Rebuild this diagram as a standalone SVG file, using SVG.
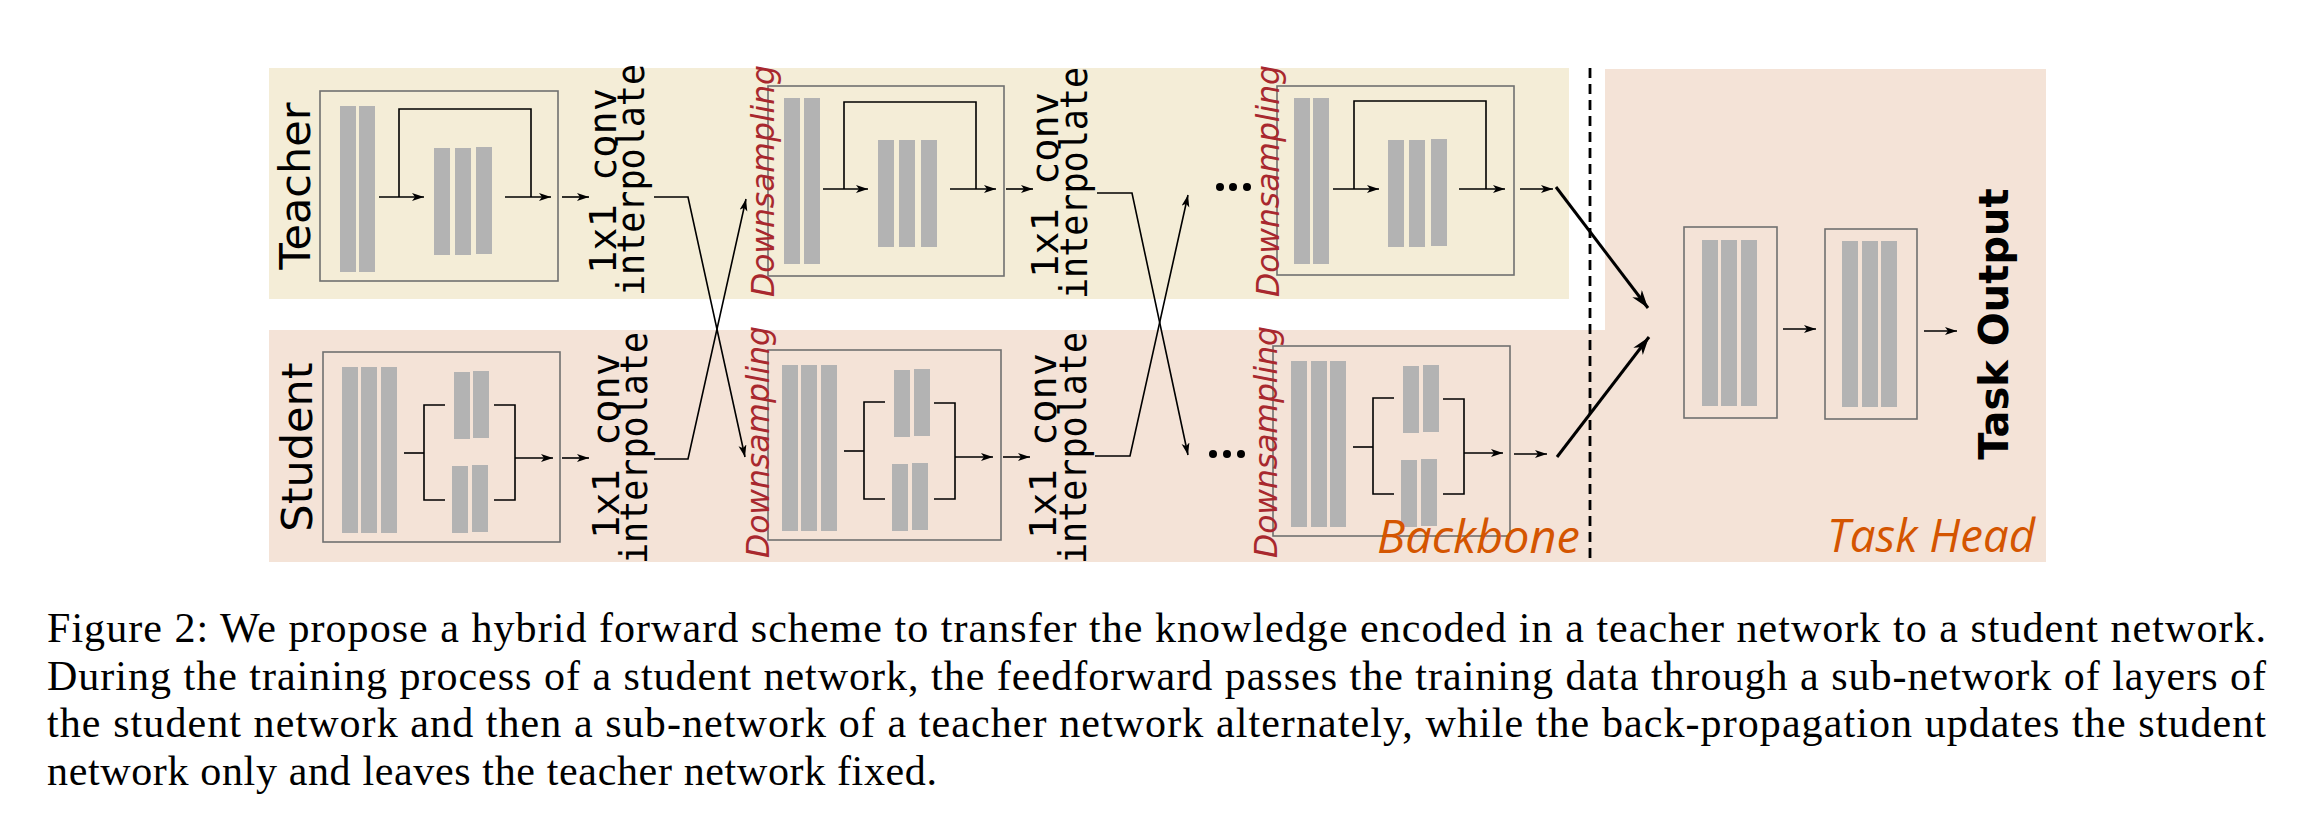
<svg xmlns="http://www.w3.org/2000/svg" width="2322" height="820" viewBox="0 0 2322 820">
<style>
.bgT{fill:#f4edd7}
.bgS{fill:#f4e3d7}
.box{fill:none;stroke:#707070;stroke-width:1.6}
.bar{fill:#b3b3b3}
.ln{fill:none;stroke:#000;stroke-width:1.6}
.big{fill:none;stroke:#000;stroke-width:3}
.lbl{font-family:"DejaVu Sans",sans-serif;font-size:43px;fill:#000;text-anchor:middle}
.mono{font-family:"DejaVu Sans Mono",monospace;font-size:37px;fill:#000;text-anchor:middle}
.ds{font-family:"DejaVu Sans",sans-serif;font-style:oblique;font-size:32px;fill:#a8282e;text-anchor:middle}
.or{font-family:"Open Sans",sans-serif;font-style:italic;font-size:46px;fill:#d45500}
.out{font-family:"DejaVu Sans",sans-serif;font-weight:bold;font-size:40px;fill:#000;text-anchor:middle}
.cap{font-family:"Liberation Serif","Times New Roman",serif;font-size:42px;fill:#000}
</style>
<defs>
<marker id="ah" markerUnits="userSpaceOnUse" markerWidth="14" markerHeight="10" refX="12" refY="4" orient="auto">
<path d="M0,0 L12,4 L0,8 L3,4 z" fill="#000"/>
</marker>
<marker id="ahb" markerUnits="userSpaceOnUse" markerWidth="20" markerHeight="14" refX="18" refY="6" orient="auto">
<path d="M0,0 L18,6 L0,12 L5,6 z" fill="#000"/>
</marker>
</defs>

<g id="backgrounds">
<rect class="bgT" x="269" y="68" width="1300" height="231"/>
<rect class="bgS" x="269" y="330" width="1336" height="232"/>
<rect class="bgS" x="1605" y="69" width="441" height="493"/>
<line x1="1590" y1="68" x2="1590" y2="562" stroke="#000" stroke-width="2.8" stroke-dasharray="10,6"/>
</g>

<g id="teacher-label"><text class="lbl" transform="translate(310,186) rotate(-90)">Teacher</text></g>
<g id="student-label"><text class="lbl" transform="translate(312,447) rotate(-90)">Student</text></g>

<g id="teacher-block-1">
<rect class="box" x="320" y="91" width="238" height="190"/>
<rect class="bar" x="340" y="106" width="16" height="166"/>
<rect class="bar" x="359" y="106" width="16" height="166"/>
<rect class="bar" x="434" y="148" width="16" height="107"/>
<rect class="bar" x="455" y="148" width="16" height="107"/>
<rect class="bar" x="476" y="147" width="16" height="107"/>
<path class="ln" d="M379,197 H424" marker-end="url(#ah)"/>
<path class="ln" d="M399,197 V109 H531 V197"/>
<path class="ln" d="M505,197 H551" marker-end="url(#ah)"/>
</g>

<g id="teacher-block-2">
<rect class="box" x="768" y="86" width="236" height="190"/>
<rect class="bar" x="784" y="98" width="16" height="166"/>
<rect class="bar" x="804" y="98" width="16" height="166"/>
<rect class="bar" x="878" y="140" width="16" height="107"/>
<rect class="bar" x="899" y="140" width="16" height="107"/>
<rect class="bar" x="921" y="140" width="16" height="107"/>
<path class="ln" d="M823,189 H868" marker-end="url(#ah)"/>
<path class="ln" d="M844,189 V102 H976 V189"/>
<path class="ln" d="M950,189 H996" marker-end="url(#ah)"/>
</g>

<g id="teacher-block-3">
<rect class="box" x="1277" y="86" width="237" height="189"/>
<rect class="bar" x="1294" y="98" width="16" height="166"/>
<rect class="bar" x="1313" y="98" width="16" height="166"/>
<rect class="bar" x="1388" y="140" width="16" height="107"/>
<rect class="bar" x="1409" y="140" width="16" height="107"/>
<rect class="bar" x="1431" y="139" width="16" height="107"/>
<path class="ln" d="M1333,189 H1379" marker-end="url(#ah)"/>
<path class="ln" d="M1354,189 V101 H1486 V189"/>
<path class="ln" d="M1459,189 H1505" marker-end="url(#ah)"/>
</g>

<g id="student-block-1">
<rect class="box" x="323" y="352" width="237" height="190"/>
<rect class="bar" x="342" y="367" width="16" height="166"/>
<rect class="bar" x="361" y="367" width="16" height="166"/>
<rect class="bar" x="381" y="367" width="16" height="166"/>
<rect class="bar" x="454" y="372" width="16" height="67"/>
<rect class="bar" x="473" y="371" width="16" height="67"/>
<rect class="bar" x="452" y="466" width="16" height="67"/>
<rect class="bar" x="472" y="465" width="16" height="67"/>
<path class="ln" d="M404,453 H424"/>
<path class="ln" d="M445,405 H424 V500 H445"/>
<path class="ln" d="M494,405 H515 V500 H494"/>
<path class="ln" d="M515,458 H553" marker-end="url(#ah)"/>
</g>

<g id="student-block-2">
<rect class="box" x="768" y="350" width="233" height="190"/>
<rect class="bar" x="782" y="365" width="16" height="166"/>
<rect class="bar" x="801" y="365" width="16" height="166"/>
<rect class="bar" x="821" y="365" width="16" height="166"/>
<rect class="bar" x="894" y="370" width="16" height="67"/>
<rect class="bar" x="914" y="369" width="16" height="67"/>
<rect class="bar" x="892" y="464" width="16" height="67"/>
<rect class="bar" x="912" y="463" width="16" height="67"/>
<path class="ln" d="M844,451 H864"/>
<path class="ln" d="M885,402 H864 V499 H885"/>
<path class="ln" d="M934,403 H955 V499 H934"/>
<path class="ln" d="M955,457 H993" marker-end="url(#ah)"/>
</g>

<g id="student-block-3">
<rect class="box" x="1273" y="346" width="237" height="190"/>
<rect class="bar" x="1291" y="361" width="16" height="166"/>
<rect class="bar" x="1311" y="361" width="16" height="166"/>
<rect class="bar" x="1330" y="361" width="16" height="166"/>
<rect class="bar" x="1403" y="366" width="16" height="67"/>
<rect class="bar" x="1423" y="365" width="16" height="67"/>
<rect class="bar" x="1401" y="460" width="16" height="67"/>
<rect class="bar" x="1421" y="459" width="16" height="67"/>
<path class="ln" d="M1353,447 H1373"/>
<path class="ln" d="M1394,398 H1373 V494 H1394"/>
<path class="ln" d="M1443,399 H1464 V494 H1443"/>
<path class="ln" d="M1464,453 H1503" marker-end="url(#ah)"/>
</g>

<g id="conv-labels">
<text class="mono" transform="translate(616,181) rotate(-90)" textLength="186" lengthAdjust="spacingAndGlyphs">1x1 conv</text>
<text class="mono" transform="translate(644,180) rotate(-90)" textLength="232" lengthAdjust="spacingAndGlyphs">interpolate</text>
<text class="mono" transform="translate(619,446) rotate(-90)" textLength="186" lengthAdjust="spacingAndGlyphs">1x1 conv</text>
<text class="mono" transform="translate(647,448) rotate(-90)" textLength="232" lengthAdjust="spacingAndGlyphs">interpolate</text>
<text class="mono" transform="translate(1058,185) rotate(-90)" textLength="186" lengthAdjust="spacingAndGlyphs">1x1 conv</text>
<text class="mono" transform="translate(1087,183) rotate(-90)" textLength="232" lengthAdjust="spacingAndGlyphs">interpolate</text>
<text class="mono" transform="translate(1056,446) rotate(-90)" textLength="186" lengthAdjust="spacingAndGlyphs">1x1 conv</text>
<text class="mono" transform="translate(1086,448) rotate(-90)" textLength="232" lengthAdjust="spacingAndGlyphs">interpolate</text>
</g>

<g id="downsampling-labels">
<text class="ds" transform="translate(774,181) rotate(-90)" textLength="232" lengthAdjust="spacingAndGlyphs">Downsampling</text>
<text class="ds" transform="translate(769,442) rotate(-90)" textLength="232" lengthAdjust="spacingAndGlyphs">Downsampling</text>
<text class="ds" transform="translate(1279,181) rotate(-90)" textLength="232" lengthAdjust="spacingAndGlyphs">Downsampling</text>
<text class="ds" transform="translate(1277,442) rotate(-90)" textLength="232" lengthAdjust="spacingAndGlyphs">Downsampling</text>
</g>

<g id="ellipses">
<circle cx="1220" cy="187" r="4"/><circle cx="1233" cy="187" r="4"/><circle cx="1247" cy="187" r="4"/>
<circle cx="1213" cy="454" r="4"/><circle cx="1227" cy="454" r="4"/><circle cx="1241" cy="454" r="4"/>
</g>

<g id="task-head-box-1">
<rect class="box" x="1684" y="227" width="93" height="191"/>
<rect class="bar" x="1702" y="240" width="16" height="166"/>
<rect class="bar" x="1721" y="240" width="16" height="166"/>
<rect class="bar" x="1741" y="240" width="16" height="166"/>
</g>
<g id="task-head-box-2">
<rect class="box" x="1825" y="229" width="92" height="190"/>
<rect class="bar" x="1842" y="241" width="16" height="166"/>
<rect class="bar" x="1862" y="241" width="16" height="166"/>
<rect class="bar" x="1881" y="241" width="16" height="166"/>
</g>
<g id="task-output"><text class="out" transform="translate(2008,324) rotate(-90)">Task Output</text></g>

<g id="region-labels">
<text class="or" x="1377" y="553" textLength="203" lengthAdjust="spacingAndGlyphs">Backbone</text>
<text class="or" x="1827" y="552" textLength="208" lengthAdjust="spacingAndGlyphs">Task Head</text>
</g>

<g id="connectors">
<path class="ln" d="M562,197 H589" marker-end="url(#ah)"/>
<path class="ln" d="M1006,189 H1033" marker-end="url(#ah)"/>
<path class="ln" d="M1520,189 H1553" marker-end="url(#ah)"/>
<path class="ln" d="M562,458 H589" marker-end="url(#ah)"/>
<path class="ln" d="M1003,457 H1030" marker-end="url(#ah)"/>
<path class="ln" d="M1514,454 H1547" marker-end="url(#ah)"/>
<path class="ln" d="M654,197 H688 L745,457" marker-end="url(#ah)"/>
<path class="ln" d="M654,459 H688 L746,199" marker-end="url(#ah)"/>
<path class="ln" d="M1097,193 H1132 L1188,455" marker-end="url(#ah)"/>
<path class="ln" d="M1095,456 H1130 L1188,195" marker-end="url(#ah)"/>
<path class="big" d="M1556,187 L1648,308" marker-end="url(#ahb)"/>
<path class="big" d="M1557,457 L1649,337" marker-end="url(#ahb)"/>
<path class="ln" d="M1783,329 H1816" marker-end="url(#ah)"/>
<path class="ln" d="M1924,331 H1957" marker-end="url(#ah)"/>
</g>

<g id="caption">
<text class="cap" x="47" y="642" textLength="2219" lengthAdjust="spacing">Figure 2: We propose a hybrid forward scheme to transfer the knowledge encoded in a teacher network to a student network.</text>
<text class="cap" x="47" y="689.5" textLength="2219" lengthAdjust="spacing">During the training process of a student network, the feedforward passes the training data through a sub-network of layers of</text>
<text class="cap" x="47" y="737" textLength="2219" lengthAdjust="spacing">the student network and then a sub-network of a teacher network alternately, while the back-propagation updates the student</text>
<text class="cap" x="47" y="784.5" textLength="890" lengthAdjust="spacing">network only and leaves the teacher network fixed.</text>
</g>
</svg>
